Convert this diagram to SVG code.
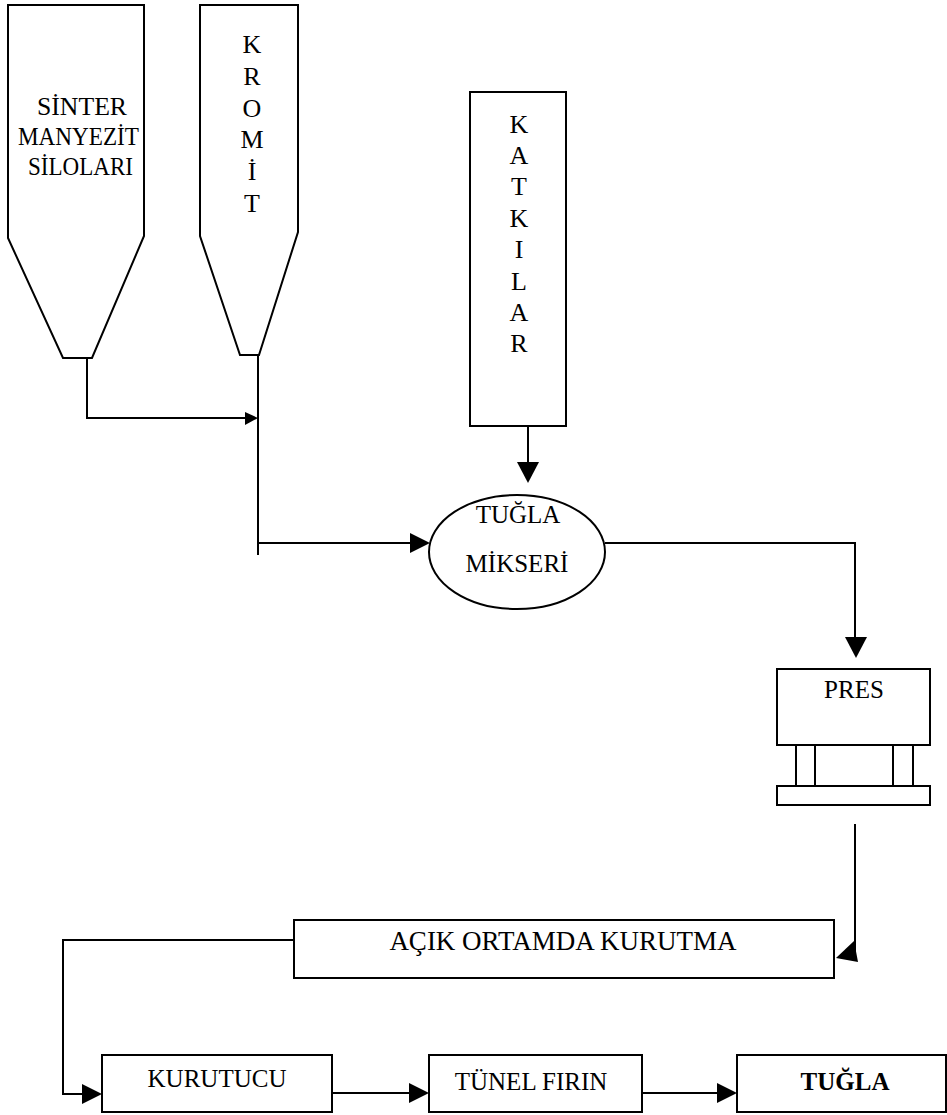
<svg xmlns="http://www.w3.org/2000/svg" width="947" height="1115" viewBox="0 0 947 1115">
<style>
.s{fill:#fff;stroke:#000;stroke-width:2}
.c{fill:none;stroke:#000;stroke-width:2}
.h{fill:#000;stroke:none}
text{font-family:"Liberation Serif","Times New Roman",serif;fill:#000}
.t{font-size:25px;text-anchor:middle}
.v{font-size:26px;text-anchor:middle}
.n{font-size:26px}
</style>
<rect width="947" height="1115" fill="#fff"/>
<g id="silo-sinter">
<path class="s" d="M8,5 H144 V236 L92,358 H63 L8,238 Z"/>
<text class="n" x="37" y="115" textLength="90" lengthAdjust="spacingAndGlyphs">SİNTER</text>
<text class="n" x="18" y="145" textLength="121" lengthAdjust="spacingAndGlyphs">MANYEZİT</text>
<text class="n" x="28" y="175" textLength="105" lengthAdjust="spacingAndGlyphs">SİLOLARI</text>
</g>
<g id="silo-kromit">
<path class="s" d="M200,5 H298 V232 L259,355 H240 L200,236 Z"/>
<text class="v" x="252" y="53">K</text>
<text class="v" x="252" y="85">R</text>
<text class="v" x="252" y="117">O</text>
<text class="v" x="252" y="148">M</text>
<text class="v" x="252" y="180">İ</text>
<text class="v" x="252" y="212">T</text>
</g>
<g id="katkilar">
<rect class="s" x="470" y="92" width="96" height="334"/>
<text class="v" x="519" y="133">K</text>
<text class="v" x="519" y="164">A</text>
<text class="v" x="519" y="195">T</text>
<text class="v" x="519" y="227">K</text>
<text class="v" x="519" y="258">I</text>
<text class="v" x="519" y="290">L</text>
<text class="v" x="519" y="321">A</text>
<text class="v" x="519" y="352">R</text>
</g>
<g id="mikser">
<ellipse class="s" cx="517" cy="552" rx="88" ry="57"/>
<text class="t" x="518" y="523">TUĞLA</text>
<text class="t" x="517" y="572">MİKSERİ</text>
</g>
<g id="pres">
<rect class="s" x="777" y="669" width="153" height="76"/>
<text class="t" x="854" y="698">PRES</text>
<path class="c" d="M796,745 V786 M815,745 V786 M893,745 V786 M913,745 V786"/>
<rect class="s" x="777" y="786" width="153" height="19"/>
</g>
<g id="acik-kurutma">
<rect class="s" x="294" y="920" width="540" height="58"/>
<text x="563" y="950" font-size="27" text-anchor="middle">AÇIK ORTAMDA KURUTMA</text>
</g>
<g id="kurutucu">
<rect class="s" x="102" y="1055" width="230" height="57"/>
<text class="t" x="217" y="1087">KURUTUCU</text>
</g>
<g id="tunel-firin">
<rect class="s" x="429" y="1055" width="213" height="57"/>
<text class="t" x="531" y="1090">TÜNEL FIRIN</text>
</g>
<g id="tugla">
<rect class="s" x="737" y="1055" width="209" height="57"/>
<text class="t" x="845" y="1090" font-weight="bold">TUĞLA</text>
</g>
<g id="connectors">
<path class="c" d="M87,358 V418 H246"/>
<polygon class="h" points="245,412 258,418 245,425"/>
<path class="c" d="M258,355 V555 M258,543 H412"/>
<polygon class="h" points="410,533 430,543 410,553"/>
<path class="c" d="M528,426 V464"/>
<polygon class="h" points="517,462 539,462 528,483"/>
<path class="c" d="M605,543 H855 V640"/>
<polygon class="h" points="845,637 867,637 856,658"/>
<path class="c" d="M855,824 V960"/>
<polygon class="h" points="854,941 858,962 836,958"/>
<path class="c" d="M294,940 H63 V1094 H84"/>
<polygon class="h" points="82,1084 102,1094 82,1104"/>
<path class="c" d="M332,1093 H411"/>
<polygon class="h" points="409,1083 429,1093 409,1103"/>
<path class="c" d="M642,1093 H719"/>
<polygon class="h" points="717,1083 737,1093 717,1103"/>
</g>
</svg>
